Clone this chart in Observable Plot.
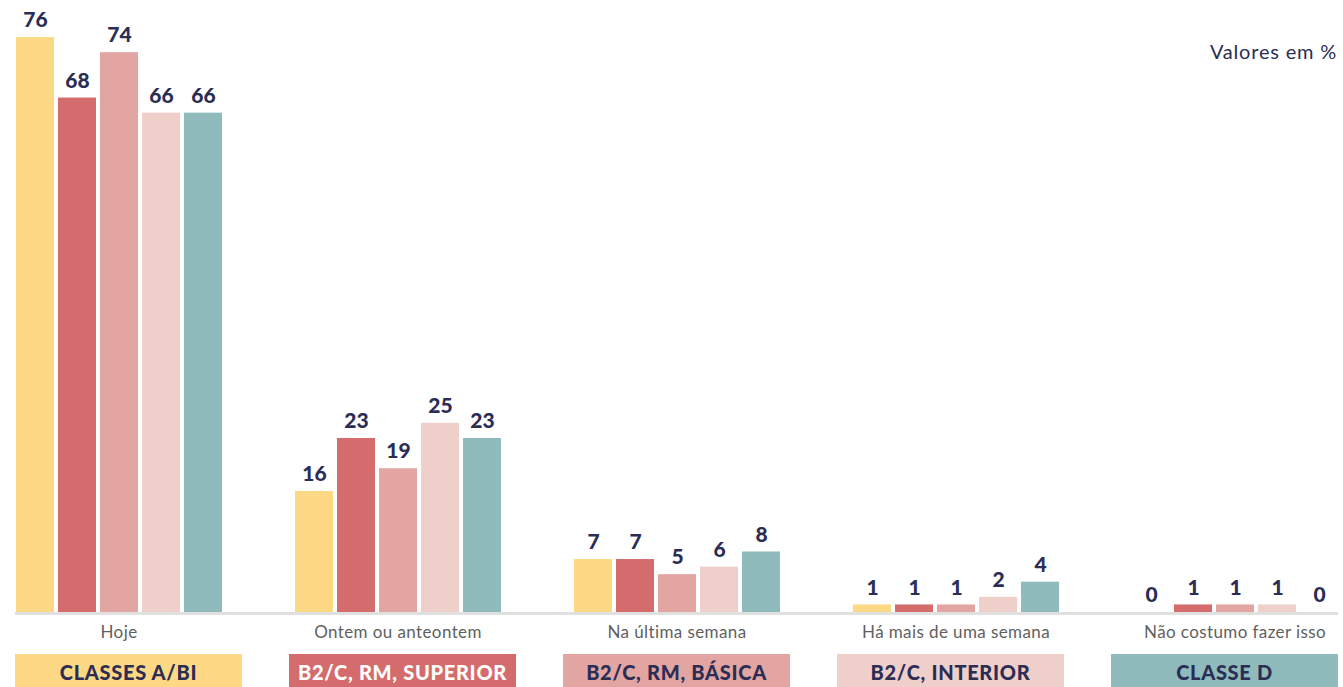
<!DOCTYPE html>
<html>
<head>
<meta charset="utf-8">
<script src="https://cdn.jsdelivr.net/npm/d3@7"></script>
<script src="https://cdn.jsdelivr.net/npm/@observablehq/plot@0.6"></script>
<style>
  html, body { margin: 0; padding: 0; background: #fff; }
  body { width: 1343px; height: 687px; position: relative; overflow: hidden; font-family: Lato, "Open Sans", sans-serif; }
  #note { position: absolute; right: 6px; top: 39px; font-size: 20px; color: #2b2d55; letter-spacing: 0.8px; }
  #legend { position: absolute; left: 15px; top: 654px; width: 1323px; height: 33px; display: flex; justify-content: space-between; }
  .box { width: 227px; height: 33px; display: flex; align-items: center; justify-content: center; font-weight: 900; font-size: 20px; letter-spacing: 0.7px; color: #2b2d55; padding-top: 2px; box-sizing: border-box; }
</style>
</head>
<body>
<div id="chart"></div>
<div id="note">Valores em %</div>
<div id="legend"></div>
<script>
const categories = ["Hoje", "Ontem ou anteontem", "Na última semana", "Há mais de uma semana", "Não costumo fazer isso"];
const series = ["CLASSES A/BI", "B2/C, RM, SUPERIOR", "B2/C, RM, BÁSICA", "B2/C, INTERIOR", "CLASSE D"];
const colors = ["#FED985", "#D46C6D", "#E2A5A1", "#EECFCA", "#8FBBBC"];
const legendText = ["#2b2d55", "#ffffff", "#2b2d55", "#2b2d55", "#2b2d55"];
const valuesAB1 = [76, 16, 7, 1, 0];
const valuesSuperior = [68, 23, 7, 1, 1];
const valuesBasica = [74, 19, 5, 1, 1];
const valuesInterior = [66, 25, 6, 2, 1];
const valuesD = [66, 23, 8, 4, 0];

const seriesValues = [valuesAB1, valuesSuperior, valuesBasica, valuesInterior, valuesD];
const data = [];
categories.forEach((c, i) => {
  series.forEach((s, j) => data.push({category: c, series: s, value: seriesValues[j][i]}));
});

const plot = Plot.plot({
  width: 1343,
  height: 645,
  marginTop: 37,
  marginBottom: 33,
  marginLeft: 15,
  marginRight: 5,
  style: {fontFamily: "Lato, 'Open Sans', sans-serif", fontSize: "17px", background: "transparent"},
  fx: {domain: categories, paddingInner: 0.259, paddingOuter: 0, axis: "bottom", tickSize: 0, tickPadding: 13, label: null},
  x: {domain: series, paddingInner: 0.1, paddingOuter: 0, axis: null},
  y: {domain: [0, 76], axis: null},
  color: {domain: series, range: colors},
  marks: [
    Plot.barY(data, {fx: "category", x: "series", y: "value", fill: "series"}),
    Plot.text(data, {fx: "category", x: "series", y: "value", text: d => String(d.value), dy: -17, fill: "#2b2d55", fontWeight: 900, fontSize: 21})
  ]
});

// style fx axis labels
d3.select(plot).selectAll("g[aria-label^='fx-axis'] text")
  .attr("fill", "#5f5f5f").style("letter-spacing", "0.4px");

// full-width baseline across all groups, from the library's scales
const y0 = plot.scale("y").apply(0);
d3.select(plot).append("line")
  .attr("x1", 15).attr("x2", 1338)
  .attr("y1", y0 + 1.5).attr("y2", y0 + 1.5)
  .attr("stroke", "#e0e0e0").attr("stroke-width", 3);

document.getElementById("chart").appendChild(plot);

const legend = d3.select("#legend");
series.forEach((s, i) => {
  legend.append("div").attr("class", "box")
    .style("background", colors[i]).style("color", legendText[i]).text(s);
});
</script>
</body>
</html>
